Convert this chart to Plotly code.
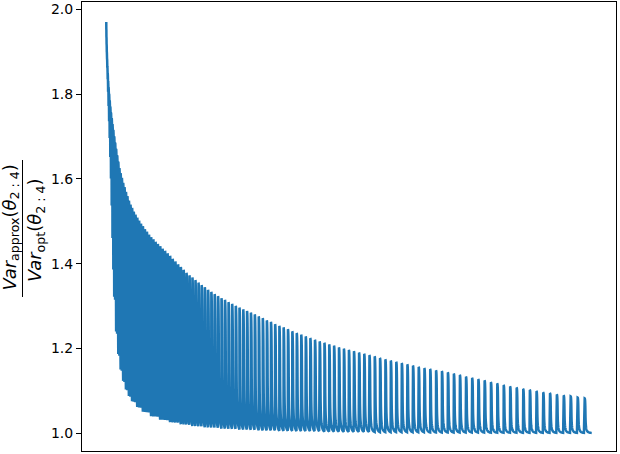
import plotly.graph_objects as go

# Peak value of each spike (one per group), read from the upper envelope
spike_peaks = [
    1.970, 1.953, 1.935, 1.918, 1.900,
    1.883, 1.865, 1.848, 1.830, 1.815,
    1.800, 1.785, 1.770, 1.756, 1.743,
    1.729, 1.715, 1.700, 1.685, 1.670,
    1.655, 1.640, 1.625, 1.613, 1.602,
    1.590, 1.580, 1.569, 1.559, 1.548,
    1.539, 1.531, 1.522, 1.515, 1.508,
    1.501, 1.494, 1.488, 1.481, 1.475,
    1.468, 1.462, 1.457, 1.451, 1.446,
    1.441, 1.435, 1.430, 1.424, 1.418,
    1.411, 1.405, 1.398, 1.392, 1.385,
    1.378, 1.372, 1.367, 1.361, 1.355,
    1.349, 1.344, 1.338, 1.333, 1.328,
    1.323, 1.318, 1.314, 1.309, 1.305,
    1.300, 1.296, 1.292, 1.288, 1.284,
    1.280, 1.275, 1.271, 1.266, 1.262,
    1.257, 1.253, 1.249, 1.245, 1.240,
    1.236, 1.232, 1.228, 1.224, 1.220,
    1.216, 1.213, 1.209, 1.206, 1.202,
    1.199, 1.196, 1.193, 1.190, 1.187,
    1.184, 1.181, 1.177, 1.174, 1.171,
    1.168, 1.165, 1.162, 1.159, 1.156,
    1.153, 1.151, 1.148, 1.146, 1.143,
    1.140, 1.137, 1.133, 1.130, 1.127,
    1.124, 1.120, 1.117, 1.113, 1.110,
    1.107, 1.104, 1.102, 1.099, 1.096,
    1.094, 1.091, 1.089, 1.087, 1.084,
    1.082,
]

# Number of samples in each group (group g holds g samples)
group_sizes = list(range(1, len(spike_peaks) + 1))

# Offsets within a group and the fraction of the spike height left at each offset
decay_steps = [0, 1, 2, 3, 4, 5, 6, 7, 8, 9, 10, 11, 12, 13, 14, 15, 16, 18, 20, 22,
               24, 26, 28, 30, 33, 36, 40, 44, 48, 52, 56, 60, 65, 70, 75, 80, 90,
               100, 110, 120, 135]
decay_profile = [1.000, 0.999, 0.996, 0.991, 0.985, 0.976, 0.965, 0.950, 0.930, 0.903,
                 0.870, 0.830, 0.780, 0.710, 0.620, 0.530, 0.450, 0.350, 0.285, 0.240,
                 0.205, 0.178, 0.157, 0.140, 0.120, 0.103, 0.086, 0.072, 0.061, 0.053,
                 0.046, 0.040, 0.034, 0.029, 0.0255, 0.0225, 0.018, 0.0145, 0.012,
                 0.010, 0.008]

y_ticks = [1.0, 1.2, 1.4, 1.6, 1.8, 2.0]
y_tick_labels = ["1.0", "1.2", "1.4", "1.6", "1.8", "2.0"]

xs, ys = [], []
start = 0
for peak, size in zip(spike_peaks, group_sizes):
    for j, r in zip(decay_steps, decay_profile):
        if j >= size:
            break
        xs.append(start + j)
        ys.append(1 + (peak - 1) * r)
    start += size

total = start - 1
pad = 0.05 * total

fig = go.Figure()
fig.add_trace(go.Scatter(x=xs, y=ys, mode="lines",
                         line=dict(color="#1f77b4", width=2.5, simplify=False),
                         hoverinfo="skip", showlegend=False))

W, H = 620, 454
L, R, T, B = 82, 4, 2, 3
pw, ph = W - L - R, H - T - B

def px_to_paper_x(px):
    return (px - L) / pw

def px_to_paper_y(py):
    return (H - B - py) / ph

font = dict(family="DejaVu Sans", size=14, color="black")
label_font = dict(family="DejaVu Sans", size=18, color="black")

fig.add_annotation(text="<i>Var</i><sub>approx</sub>(<i>θ</i><sub>2 : 4</sub>)",
                   xref="paper", yref="paper", x=px_to_paper_x(10.5), y=px_to_paper_y(228),
                   xanchor="center", yanchor="middle", textangle=-90, showarrow=False,
                   font=label_font)
fig.add_annotation(text="<i>Var</i><sub>opt</sub>(<i>θ</i><sub>2 : 4</sub>)",
                   xref="paper", yref="paper", x=px_to_paper_x(36), y=px_to_paper_y(230),
                   xanchor="center", yanchor="middle", textangle=-90, showarrow=False,
                   font=label_font)
fig.add_shape(type="line", xref="paper", yref="paper",
              x0=px_to_paper_x(22.5), x1=px_to_paper_x(22.5),
              y0=px_to_paper_y(160), y1=px_to_paper_y(297),
              line=dict(color="black", width=1))

fig.update_layout(
    width=W, height=H,
    margin=dict(l=L, r=R, t=T, b=B, autoexpand=False),
    paper_bgcolor="white", plot_bgcolor="white",
    font=font,
    xaxis=dict(range=[-pad, total + pad], showgrid=False, zeroline=False,
               showticklabels=False, ticks="", showline=True, linecolor="black",
               linewidth=1.1, mirror=True, automargin=False),
    yaxis=dict(range=[0.958, 2.017], showgrid=False, zeroline=False,
               tickmode="array", tickvals=y_ticks, ticktext=y_tick_labels,
               ticks="outside", ticklen=5, tickwidth=1.1, tickcolor="black",
               showline=True, linecolor="black", linewidth=1.1, mirror=True,
               tickfont=font, automargin=False),
)

fig.write_html("out.html", config={"displayModeBar": False},
               post_script="document.body.style.margin='0';document.body.style.overflow='hidden';")
